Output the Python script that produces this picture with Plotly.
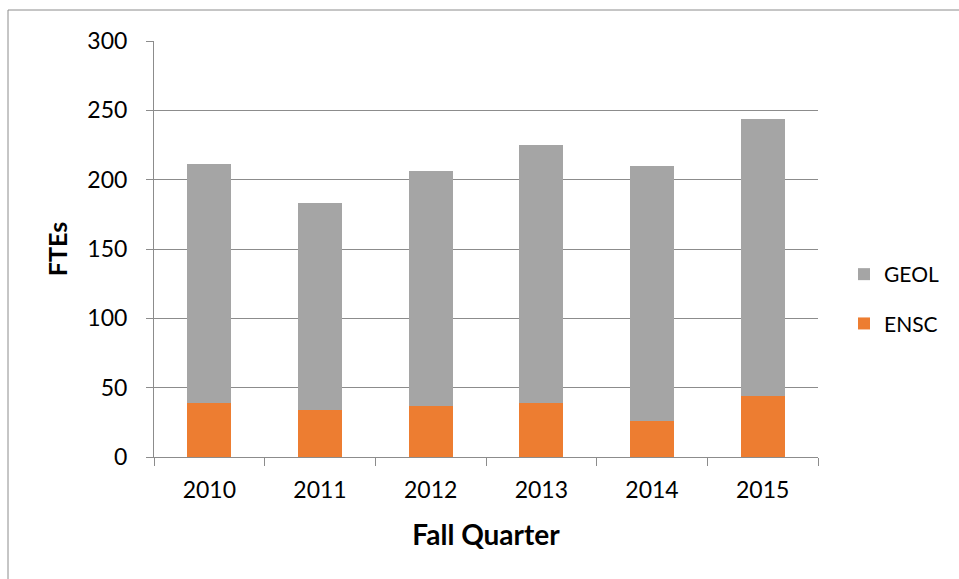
import plotly.graph_objects as go

years = ["2010", "2011", "2012", "2013", "2014", "2015"]
ensc = [39, 34, 37, 39, 26, 44]
geol = [172, 149, 169, 186, 184, 200]

FONT = "Lato"
GRID = "#8c8c8c"

fig = go.Figure()
fig.add_trace(go.Bar(x=years, y=ensc, name="ENSC", marker_color="#ed7d31",
                     marker_line_width=0, legendgroup="a", legendrank=2))
fig.add_trace(go.Bar(x=years, y=geol, name="GEOL", marker_color="#a5a5a5",
                     marker_line_width=0, legendgroup="b", legendrank=1))

W, H = 959, 579
L, R, T, B = 154, 818, 41, 457
pw, ph = R - L, B - T

bx = (8 - L) / pw
by = (B - 10) / ph
border = dict(color="#8c8c8c", width=1)

fig.update_layout(
    width=W, height=H,
    barmode="stack", bargap=0.6,
    margin=dict(l=L, r=W - R, t=T, b=H - B, autoexpand=False),
    paper_bgcolor="white", plot_bgcolor="white",
    font=dict(family=FONT, size=23, color="#000000"),
    showlegend=True,
    legend=dict(x=(844 - L) / pw, y=(B - 254) / ph,
                xanchor="left", yanchor="top",
                traceorder="grouped", tracegroupgap=19,
                font=dict(family=FONT, size=21), bgcolor="rgba(0,0,0,0)",
                itemwidth=30),
    xaxis=dict(
        showline=True, linecolor=GRID, linewidth=1,
        ticks="outside", tickson="boundaries", ticklen=8, tickcolor=GRID,
        ticklabelstandoff=12,
        showgrid=False,
        title=dict(text="<b>Fall Quarter</b>", font=dict(family=FONT, size=28), standoff=23),
    ),
    yaxis=dict(
        range=[0, 300], dtick=50, tick0=0,
        showline=True, linecolor=GRID, linewidth=1,
        ticks="outside", ticklen=7, tickcolor=GRID,
        ticklabelstandoff=14,
        showgrid=True, gridcolor=GRID, gridwidth=1,
        zeroline=False,
        title=dict(text="<b>FTEs</b>", font=dict(family=FONT, size=25), standoff=12),
    ),
    shapes=[
        dict(type="line", xref="paper", yref="paper",
             x0=bx, x1=(W + 20 - L) / pw, y0=by, y1=by, line=border, layer="below"),
        dict(type="line", xref="paper", yref="paper",
             x0=bx, x1=bx, y0=by, y1=(B - (H + 20)) / ph, line=border, layer="below"),
    ],
)

fig.write_html(
    "out.html",
    config={"displayModeBar": False},
    post_script="document.body.style.margin='0';document.body.style.overflow='hidden';",
)
